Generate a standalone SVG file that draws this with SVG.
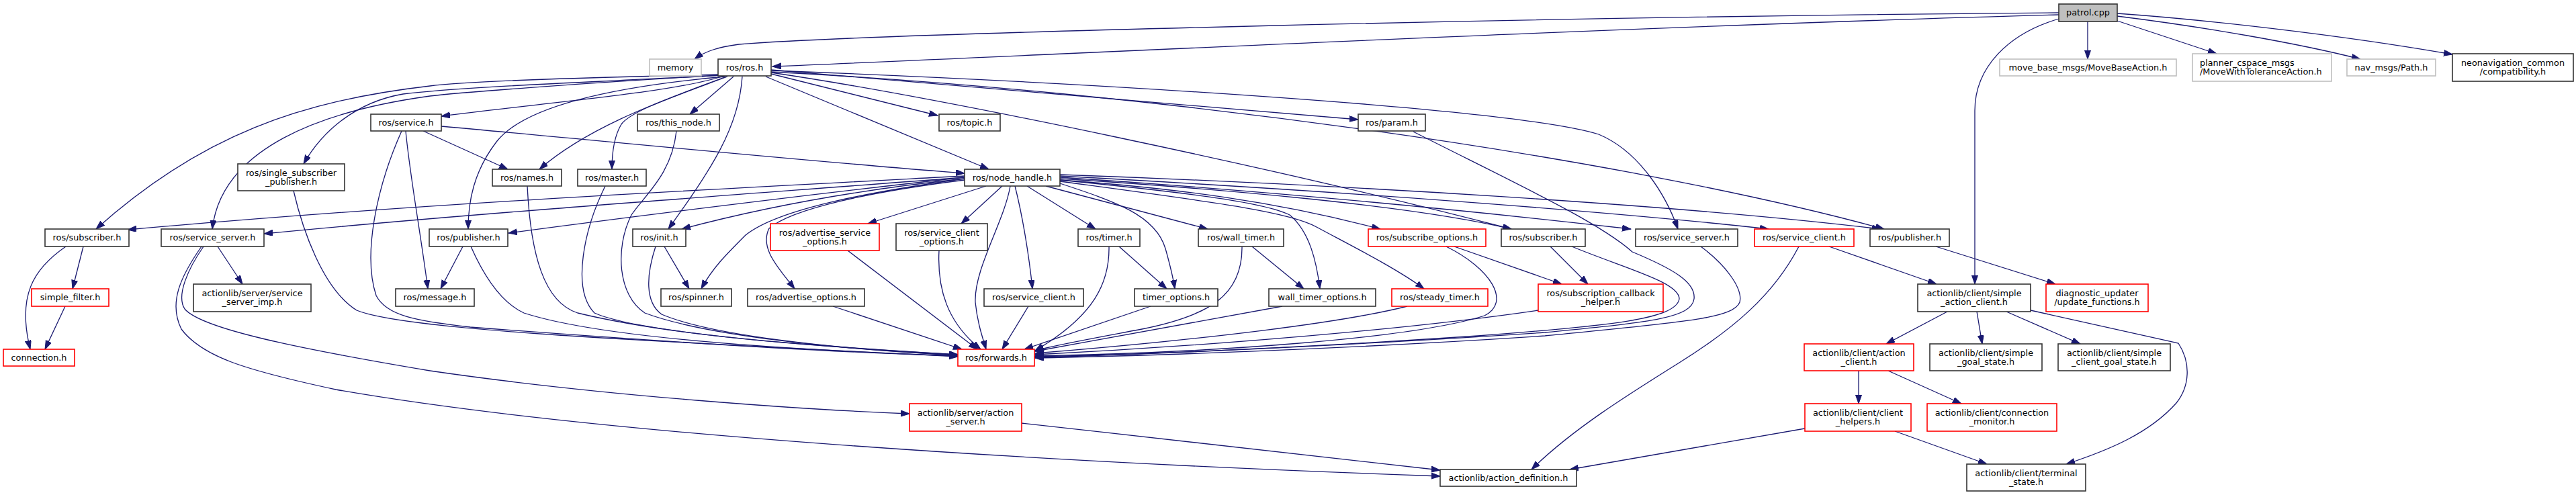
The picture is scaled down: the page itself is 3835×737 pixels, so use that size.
<svg xmlns="http://www.w3.org/2000/svg" width="3835" height="737" viewBox="0 0 3835 737">
<style>
rect{fill:#fff;stroke:#333;stroke-width:1.6}
rect.r{stroke:#ff0000}
rect.g{stroke:#bfbfbf}
rect.p{fill:#bfbfbf}
text{font-family:"DejaVu Sans",sans-serif;font-size:12.85px;fill:#000;text-anchor:middle}
text.l{text-anchor:start}
#edges path{fill:none;stroke:#191970;stroke-width:1.3;marker-end:url(#a)}
</style>
<defs>
<marker id="a" markerUnits="userSpaceOnUse" markerWidth="14" markerHeight="10" refX="13" refY="4.5" orient="auto"><path d="M0,0 L13,4.5 L0,9 z" fill="#191970" stroke="#191970" stroke-width="1"/></marker>
</defs>
<rect x="0" y="0" width="3835" height="737" style="fill:#fff;stroke:none"/>
<g id="edges">
<path d="M3065,19 C2300,25 1300,50 1100,66 C1070,70 1050,76 1034,88"/>
<path d="M3065,22 C2400,40 1500,85 1150,99"/>
<path d="M3108,32 L3108,88"/>
<path d="M3152,31 L3300,80"/>
<path d="M3152,24 C3280,40 3420,64 3514,88"/>
<path d="M3152,20 C3320,32 3520,58 3651,81"/>
<path d="M3065,28 C2990,50 2940,100 2940,165 L2940,423"/>
<path d="M1078,113 C1000,138 820,152 657,173"/>
<path d="M1072,112 C900,122 700,128 600,140 C530,152 480,195 452,244"/>
<path d="M1071,111 C900,115 700,120 640,128 C450,150 300,200 143,341"/>
<path d="M1072,112 C900,122 700,136 640,143 C480,165 330,220 316,341"/>
<path d="M1079,114 C900,130 780,160 740,210 C705,255 697,300 697,341"/>
<path d="M1081,114 C1000,145 880,185 803,252"/>
<path d="M1083,114 C1000,145 940,165 925,185 C913,205 911,230 911,252"/>
<path d="M1092,114 L1027,170"/>
<path d="M1105,114 C1100,190 1060,250 995,341"/>
<path d="M1148,110 L1396,172"/>
<path d="M1140,114 L1472,252"/>
<path d="M1148,104 C1400,125 1800,160 2022,178"/>
<path d="M1148,108 C1400,145 1900,250 2250,341"/>
<path d="M1148,105 C1600,122 2250,160 2380,200 C2440,225 2480,290 2498,341"/>
<path d="M1148,107 C1700,135 2400,230 2805,341"/>
<path d="M630,195 L756,252"/>
<path d="M657,188 C900,210 1200,240 1436,258"/>
<path d="M604,195 C610,260 625,340 637,430"/>
<path d="M598,195 C560,280 540,380 560,440 C575,470 620,478 700,487 C1000,510 1250,525 1426,530"/>
<path d="M437,284 C450,340 480,430 531,462 C600,490 900,505 1426,531"/>
<path d="M785,277 C790,380 810,450 860,466 C1000,500 1200,515 1426,528"/>
<path d="M901,277 C870,340 850,430 885,466 C950,495 1200,515 1426,528"/>
<path d="M1007,195 C1000,260 960,290 940,320 C915,370 920,440 960,466 C1050,500 1250,520 1426,529"/>
<path d="M976,367 C962,410 960,450 985,468 C1060,500 1250,520 1426,529"/>
<path d="M989,367 L1026,430"/>
<path d="M701,367 C720,410 745,450 780,466 C900,505 1200,522 1426,530"/>
<path d="M689,367 L656,430"/>
<path d="M1436,262 C1000,285 600,305 190,342"/>
<path d="M1436,264 C1100,290 700,318 393,348"/>
<path d="M1436,264 C1200,290 1000,315 757,347"/>
<path d="M1436,266 C1300,280 1150,305 1015,341"/>
<path d="M1436,266 C1300,285 1160,310 1110,350 C1080,380 1060,400 1044,430"/>
<path d="M1436,268 C1300,285 1180,310 1145,340 C1130,370 1160,400 1183,430"/>
<path d="M1468,277 L1292,333"/>
<path d="M1492,277 L1431,333"/>
<path d="M1504,277 C1495,330 1450,400 1452,450 C1455,480 1462,500 1468,520"/>
<path d="M1511,277 C1522,320 1532,380 1537,430"/>
<path d="M1529,277 L1631,341"/>
<path d="M1578,273 C1660,300 1720,320 1735,370 C1742,395 1746,410 1749,430"/>
<path d="M1557,277 L1798,341"/>
<path d="M1578,268 C1750,280 1900,300 2055,341"/>
<path d="M1578,266 C1800,280 2100,305 2250,341"/>
<path d="M1578,264 C1900,285 2200,315 2428,341"/>
<path d="M1578,262 C2000,285 2400,315 2633,341"/>
<path d="M1578,260 C2000,275 2500,305 2800,341"/>
<path d="M1578,270 C1800,300 1920,315 1960,338 C2010,365 2080,400 2120,430"/>
<path d="M1578,268 C1750,285 1880,300 1920,320 C1950,345 1960,390 1965,430"/>
<path d="M1651,367 C1652,420 1630,470 1541,522"/>
<path d="M1666,367 L1737,430"/>
<path d="M1849,367 C1850,440 1800,470 1700,490 C1620,505 1580,512 1541,522"/>
<path d="M1864,367 L1941,430"/>
<path d="M1713,456 L1525,520"/>
<path d="M1531,456 L1492,520"/>
<path d="M1909,456 L1541,523"/>
<path d="M2095,456 C2000,480 1800,505 1541,526"/>
<path d="M1240,456 L1432,520"/>
<path d="M1262,373 L1455,520"/>
<path d="M1398,373 C1395,430 1410,480 1460,520"/>
<path d="M2290,462 C2100,490 1800,515 1541,528"/>
<path d="M2153,367 C2220,400 2250,450 2210,470 C2100,505 1800,525 1541,530"/>
<path d="M2165,367 L2325,423"/>
<path d="M2308,367 L2364,423"/>
<path d="M2340,367 C2420,400 2500,420 2500,445 C2495,475 2400,485 2200,500 C1900,520 1700,528 1541,531"/>
<path d="M2104,196 C2250,270 2380,330 2430,375 C2490,400 2525,420 2522,445 C2518,475 2450,480 2300,495 C2000,515 1700,528 1541,532"/>
<path d="M2532,367 C2570,395 2595,430 2590,450 C2580,475 2500,480 2300,500 C2000,520 1700,530 1541,533"/>
<path d="M2723,367 L2883,423"/>
<path d="M2678,367 C2640,440 2580,490 2500,540 C2420,590 2340,640 2280,699"/>
<path d="M2882,367 L3060,423"/>
<path d="M2899,464 L2808,512"/>
<path d="M2943,464 L2951,512"/>
<path d="M2987,464 L3097,512"/>
<path d="M3023,462 L3243,511 C3262,540 3260,575 3240,600 C3200,645 3140,670 3076,691"/>
<path d="M2767,552 L2767,601"/>
<path d="M2811,552 L2920,601"/>
<path d="M2687,638 L2337,699"/>
<path d="M2821,642 L2958,691"/>
<path d="M324,367 L361,423"/>
<path d="M303,367 C280,400 262,440 275,460 C300,490 450,520 640,552 C900,590 1200,610 1354,616"/>
<path d="M300,367 C270,410 250,450 270,490 C300,530 360,550 500,580 C900,650 1600,690 2144,709"/>
<path d="M1521,630 C1750,655 2000,685 2144,700"/>
<path d="M124,367 L108,430"/>
<path d="M98,367 C50,400 25,440 45,520"/>
<path d="M97,456 L67,520"/>
</g>
<g id="patrol"><rect class="p" x="3065" y="6" width="87" height="26"/><text x="3108.5" y="23.3">patrol.cpp</text></g>
<g id="memory"><rect class="g" x="967" y="88" width="77" height="25"/><text x="1005.5" y="104.8">memory</text></g>
<g id="ros_ros"><rect x="1069" y="88" width="79" height="25"/><text x="1108.5" y="104.8">ros/ros.h</text></g>
<g id="move_base"><rect class="g" x="2977" y="88" width="263" height="25"/><text x="3108.5" y="104.8">move_base_msgs/MoveBaseAction.h</text></g>
<g id="planner"><rect class="g" x="3264" y="80" width="207" height="41"/><text class="l" x="3275" y="98.2">planner_cspace_msgs</text><text class="l" x="3275" y="111.2">/MoveWithToleranceAction.h</text></g>
<g id="nav_path"><rect class="g" x="3494" y="88" width="132" height="25"/><text x="3560" y="104.8">nav_msgs/Path.h</text></g>
<g id="neo"><rect x="3651" y="80" width="180" height="41"/><text x="3741" y="98.2">neonavigation_common</text><text x="3741" y="111.2">/compatibility.h</text></g>
<g id="service"><rect x="552" y="170" width="105" height="25"/><text x="604.5" y="186.8">ros/service.h</text></g>
<g id="this_node"><rect x="949" y="170" width="122" height="25"/><text x="1010" y="186.8">ros/this_node.h</text></g>
<g id="topic"><rect x="1398" y="170" width="91" height="25"/><text x="1443.5" y="186.8">ros/topic.h</text></g>
<g id="param"><rect x="2022" y="170" width="100" height="25"/><text x="2072" y="186.8">ros/param.h</text></g>
<g id="single_sub"><rect x="354" y="244" width="159" height="40"/><text x="433.5" y="261.8">ros/single_subscriber</text><text x="433.5" y="274.8">_publisher.h</text></g>
<g id="names"><rect x="733" y="252" width="103" height="25"/><text x="784.5" y="268.8">ros/names.h</text></g>
<g id="master"><rect x="860" y="252" width="102" height="25"/><text x="911" y="268.8">ros/master.h</text></g>
<g id="node_handle"><rect x="1436" y="252" width="142" height="25"/><text x="1507" y="268.8">ros/node_handle.h</text></g>
<g id="subscriber_l"><rect x="67" y="341" width="125" height="26"/><text x="129.5" y="358.3">ros/subscriber.h</text></g>
<g id="service_server_l"><rect x="240" y="341" width="153" height="26"/><text x="316.5" y="358.3">ros/service_server.h</text></g>
<g id="publisher_l"><rect x="639" y="341" width="117" height="26"/><text x="697.5" y="358.3">ros/publisher.h</text></g>
<g id="init"><rect x="942" y="341" width="79" height="26"/><text x="981.5" y="358.3">ros/init.h</text></g>
<g id="adv_srv_opts"><rect class="r" x="1147" y="333" width="162" height="40"/><text x="1228" y="350.8">ros/advertise_service</text><text x="1228" y="363.8">_options.h</text></g>
<g id="srv_client_opts"><rect x="1334" y="333" width="136" height="40"/><text x="1402" y="350.8">ros/service_client</text><text x="1402" y="363.8">_options.h</text></g>
<g id="timer"><rect x="1605" y="341" width="92" height="26"/><text x="1651" y="358.3">ros/timer.h</text></g>
<g id="wall_timer"><rect x="1784" y="341" width="127" height="26"/><text x="1847.5" y="358.3">ros/wall_timer.h</text></g>
<g id="subscribe_opts"><rect class="r" x="2037" y="341" width="175" height="26"/><text x="2124.5" y="358.3">ros/subscribe_options.h</text></g>
<g id="subscriber_r"><rect x="2235" y="341" width="125" height="26"/><text x="2297.5" y="358.3">ros/subscriber.h</text></g>
<g id="service_server_r"><rect x="2435" y="341" width="152" height="26"/><text x="2511" y="358.3">ros/service_server.h</text></g>
<g id="service_client_r"><rect class="r" x="2612" y="341" width="148" height="26"/><text x="2686" y="358.3">ros/service_client.h</text></g>
<g id="publisher_r"><rect x="2784" y="341" width="118" height="26"/><text x="2843" y="358.3">ros/publisher.h</text></g>
<g id="simple_filter"><rect class="r" x="47" y="430" width="115" height="26"/><text x="104.5" y="447.3">simple_filter.h</text></g>
<g id="srv_server_imp"><rect x="288" y="423" width="175" height="41"/><text x="375.5" y="441.2">actionlib/server/service</text><text x="375.5" y="454.2">_server_imp.h</text></g>
<g id="message"><rect x="589" y="430" width="117" height="26"/><text x="647.5" y="447.3">ros/message.h</text></g>
<g id="spinner"><rect x="984" y="430" width="105" height="26"/><text x="1036.5" y="447.3">ros/spinner.h</text></g>
<g id="adv_opts"><rect x="1113" y="430" width="174" height="26"/><text x="1200" y="447.3">ros/advertise_options.h</text></g>
<g id="service_client_b"><rect x="1465" y="430" width="148" height="26"/><text x="1539" y="447.3">ros/service_client.h</text></g>
<g id="timer_opts"><rect x="1689" y="430" width="124" height="26"/><text x="1751" y="447.3">timer_options.h</text></g>
<g id="wall_timer_opts"><rect x="1889" y="430" width="159" height="26"/><text x="1968.5" y="447.3">wall_timer_options.h</text></g>
<g id="steady_timer"><rect class="r" x="2072" y="430" width="143" height="26"/><text x="2143.5" y="447.3">ros/steady_timer.h</text></g>
<g id="sub_cb_helper"><rect class="r" x="2290" y="423" width="186" height="41"/><text x="2383" y="441.2">ros/subscription_callback</text><text x="2383" y="454.2">_helper.h</text></g>
<g id="simple_action_client"><rect x="2855" y="423" width="168" height="41"/><text x="2939" y="441.2">actionlib/client/simple</text><text x="2939" y="454.2">_action_client.h</text></g>
<g id="update_functions"><rect class="r" x="3046" y="423" width="152" height="41"/><text x="3122" y="441.2">diagnostic_updater</text><text x="3122" y="454.2">/update_functions.h</text></g>
<g id="connection"><rect class="r" x="5" y="520" width="106" height="25"/><text x="58" y="536.8">connection.h</text></g>
<g id="forwards"><rect class="r" x="1426" y="520" width="114" height="25"/><text x="1483" y="536.8">ros/forwards.h</text></g>
<g id="action_client"><rect class="r" x="2686" y="512" width="163" height="40"/><text x="2767.5" y="529.8">actionlib/client/action</text><text x="2767.5" y="542.8">_client.h</text></g>
<g id="simple_goal_state"><rect x="2873" y="512" width="167" height="40"/><text x="2956.5" y="529.8">actionlib/client/simple</text><text x="2956.5" y="542.8">_goal_state.h</text></g>
<g id="simple_client_goal_state"><rect x="3064" y="512" width="167" height="40"/><text x="3147.5" y="529.8">actionlib/client/simple</text><text x="3147.5" y="542.8">_client_goal_state.h</text></g>
<g id="action_server"><rect class="r" x="1354" y="601" width="167" height="41"/><text x="1437.5" y="619.2">actionlib/server/action</text><text x="1437.5" y="632.2">_server.h</text></g>
<g id="client_helpers"><rect class="r" x="2687" y="601" width="158" height="41"/><text x="2766" y="619.2">actionlib/client/client</text><text x="2766" y="632.2">_helpers.h</text></g>
<g id="connection_monitor"><rect class="r" x="2869" y="601" width="193" height="41"/><text x="2965.5" y="619.2">actionlib/client/connection</text><text x="2965.5" y="632.2">_monitor.h</text></g>
<g id="action_definition"><rect x="2144" y="699" width="203" height="25"/><text x="2245.5" y="715.8">actionlib/action_definition.h</text></g>
<g id="terminal_state"><rect x="2928" y="691" width="177" height="40"/><text x="3016.5" y="708.8">actionlib/client/terminal</text><text x="3016.5" y="721.8">_state.h</text></g>
</svg>
